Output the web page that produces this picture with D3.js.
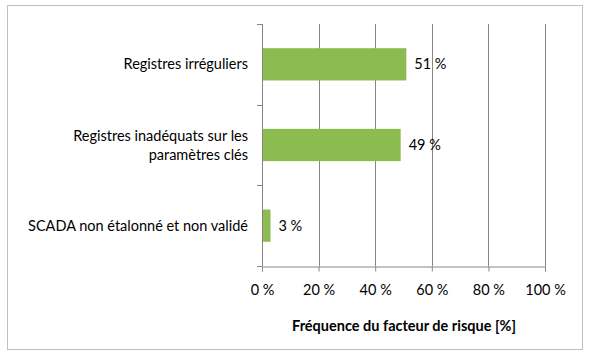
<!DOCTYPE html>
<html><head><meta charset="utf-8">
<script src="https://cdn.jsdelivr.net/npm/d3@7"></script>
<style>body{margin:0;background:#fff}svg{display:block}text{font-family:Lato,"Open Sans",sans-serif;fill:#000}</style>
</head><body>
<svg id="c" width="590" height="358"></svg>
<script>
const categories = ["Registres irréguliers", "Registres inadéquats sur les|paramètres clés", "SCADA non étalonné et non validé"];
const values = [51, 49, 3];
const tickValues = [0, 20, 40, 60, 80, 100];
const axisTitle = "Fréquence du facteur de risque [%]";

const FS = "14.5px";
const svg = d3.select("#c");
svg.append("rect").attr("x",7.5).attr("y",5.5).attr("width",575).attr("height",344)
  .attr("fill","#fff").attr("stroke","#bfbfbf");

const L=262, R=545, T=24, B=266;
const x = d3.scaleLinear().domain([0,100]).range([L,R]);
const y = d3.scaleBand().domain(categories).range([T,B]).paddingInner(0.6).paddingOuter(0.3);

// gridlines
svg.append("g").selectAll("line").data(tickValues.slice(1)).join("line")
  .attr("x1",d=>Math.round(x(d))+0.5).attr("x2",d=>Math.round(x(d))+0.5)
  .attr("y1",T).attr("y2",B).attr("stroke","#868686");

// bars
svg.append("g").selectAll("rect").data(values).join("rect")
  .attr("x",x(0)).attr("y",(d,i)=>y(categories[i]))
  .attr("width",d=>x(d)-x(0)).attr("height",y.bandwidth()).attr("fill","#8cbb4f");

// x axis
const xa = svg.append("g").attr("transform",`translate(0,${B+0.5})`)
  .call(d3.axisBottom(x).tickValues(tickValues).tickSize(5).tickPadding(13).tickFormat(d=>d+" %"));
xa.select(".domain").attr("stroke","#868686");
xa.selectAll(".tick line").attr("stroke","#868686");
xa.selectAll("text").attr("font-size",FS).attr("font-family","Lato,'Open Sans',sans-serif");

// y axis line + ticks at band boundaries
svg.append("line").attr("x1",L+0.5).attr("x2",L+0.5).attr("y1",T).attr("y2",B).attr("stroke","#868686");
const bounds = d3.range(categories.length+1).map(i=>T + i*(B-T)/categories.length);
svg.append("g").selectAll("line").data(bounds).join("line")
  .attr("x1",L-5).attr("x2",L).attr("y1",d=>Math.round(d)+0.5).attr("y2",d=>Math.round(d)+0.5).attr("stroke","#868686");

// category labels
const cl = svg.append("g").selectAll("text").data(categories).join("text")
  .attr("text-anchor","end").attr("font-size",FS)
  .attr("y",d=>y(d)+y.bandwidth()/2);
cl.each(function(d){
  const parts = d.split("|");
  const t = d3.select(this);
  parts.forEach((p,i)=>{
    t.append("tspan").attr("x",248)
     .attr("dy", i===0 ? ((-(parts.length-1)*19)/2 + 5)+"px" : "19px").text(p);
  });
});

// value labels
svg.append("g").selectAll("text").data(values).join("text")
  .attr("x",d=>x(d)+8).attr("y",(d,i)=>y(categories[i])+y.bandwidth()/2+5)
  .attr("font-size",FS).text(d=>d+" %");

// axis title
svg.append("text").attr("x",404).attr("y",331).attr("text-anchor","middle")
  .attr("font-size",FS).attr("font-weight","bold").text(axisTitle);
</script>
</body></html>
